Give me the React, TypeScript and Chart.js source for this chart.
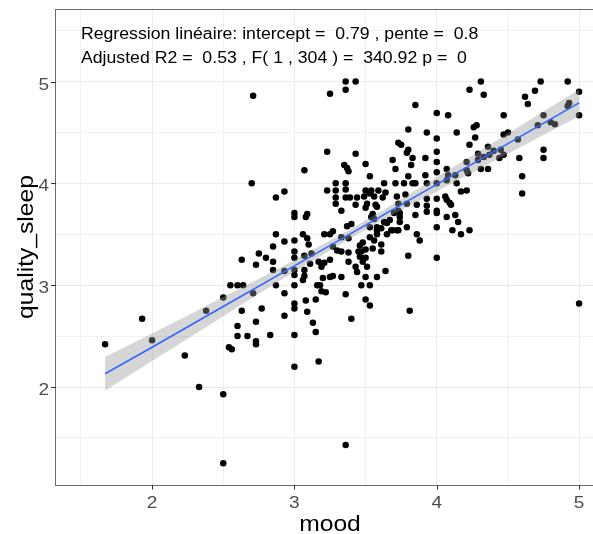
import React, { useEffect, useRef } from "react";
import { Chart, registerables } from "chart.js";

Chart.register(...registerables);

// ---- data ----
const MOOD = [
  1.67, 1.93, 2.0, 2.23, 2.33, 2.38, 2.5, 2.5, 2.5, 2.63, 2.55, 2.6, 2.64, 2.63, 2.6, 2.6, 2.67, 2.54, 2.56,
  2.7, 2.87, 2.93, 3.0, 3.0, 2.87, 2.93, 3.0, 2.85, 3.0, 2.75, 2.8, 3.0, 2.85, 2.73, 2.85, 2.93, 3.0, 3.0,
  2.87, 3.0, 2.71, 2.93, 2.77, 3.0, 3.0, 2.93, 2.73, 2.83, 3.0, 2.73, 2.73, 3.0, 3.17, 3.36, 4.0, 5.0, 4.17,
  4.23, 4.11, 3.09, 3.13, 3.15, 3.4, 3.08, 3.15, 3.36, 3.5, 3.53, 3.81, 3.8, 3.64, 3.58, 3.47, 3.53, 3.5,
  3.33, 3.25, 3.27, 3.2, 3.18, 3.19, 3.22, 3.06, 3.07, 3.06, 3.09, 3.1, 3.07, 3.11, 3.17, 3.21, 3.19, 3.25,
  3.21, 3.25, 3.27, 3.33, 3.33, 3.38, 3.38, 3.38, 3.44, 3.43, 3.46, 3.48, 3.5, 3.47, 3.5, 3.48, 3.46, 3.51,
  3.53, 3.56, 3.58, 3.61, 3.61, 3.55, 3.65, 3.69, 3.72, 3.86, 3.88, 2.71, 3.36, 3.36, 3.43, 3.25, 3.85, 3.8,
  3.93, 3.23, 3.43, 3.73, 3.75, 3.8, 3.79, 3.83, 3.69, 3.71, 3.82, 3.92, 3.07, 3.35, 3.37, 3.38, 3.5, 3.53,
  3.8, 3.92, 3.29, 3.36, 3.63, 3.71, 3.77, 3.83, 3.85, 3.23, 3.29, 3.36, 3.5, 3.54, 3.59, 3.64, 3.29, 3.36,
  3.39, 3.44, 3.49, 3.53, 3.56, 3.29, 3.43, 3.5, 3.57, 3.86, 3.93, 3.08, 3.09, 3.33, 3.67, 3.65, 3.74, 3.7,
  3.79, 3.73, 3.68, 3.61, 3.63, 3.56, 3.58, 3.53, 3.37, 3.4, 3.27, 4.31, 4.23, 4.33, 4.73, 4.92, 4.69, 5.0,
  4.62, 4.64, 4.93, 4.92, 5.0, 4.0, 4.08, 4.47, 4.75, 4.8, 4.83, 4.71, 4.14, 4.28, 4.26, 4.5, 4.47, 4.57,
  4.0, 4.27, 4.23, 4.75, 4.75, 4.58, 4.6, 4.6, 4.0, 4.0, 4.0, 4.45, 4.44, 4.47, 4.36, 4.4, 4.37, 4.33, 4.29,
  4.29, 4.31, 4.36, 4.21, 4.21, 4.22, 4.07, 4.08, 4.07, 4.0, 4.14, 4.17, 4.21, 4.06, 4.07, 4.09, 4.1, 4.0,
  4.0, 4.07, 4.13, 4.15, 4.0, 3.16, 3.62, 3.51, 3.55, 3.58, 3.54, 3.93, 4.13, 3.72, 3.73, 3.79, 3.93, 4.0,
  3.93, 3.85, 3.45, 3.58, 3.74, 3.74, 3.73, 3.12, 3.07, 3.3, 3.78,
];
const SLEEP = [
  2.42, 2.67, 2.46, 2.31, 2.0, 2.75, 2.88, 1.93, 1.25, 3.25, 3.0, 3.0, 3.0, 2.75, 2.6, 2.5, 2.5, 2.39, 2.37,
  4.0, 3.86, 3.92, 3.71, 3.67, 3.5, 3.43, 3.44, 3.38, 3.33, 3.31, 3.27, 3.27, 3.23, 3.2, 3.15, 3.14, 3.15, 3.1,
  3.0, 3.0, 2.92, 2.92, 2.77, 2.82, 2.77, 2.7, 2.64, 2.51, 2.51, 2.45, 2.42, 2.2, 2.25, 1.43, 3.27, 2.82, 3.5,
  3.54, 3.54, 2.74, 2.63, 2.54, 2.67, 2.85, 2.86, 2.91, 2.86, 2.8, 2.75, 3.29, 3.14, 3.08, 3.0, 3.0, 3.08,
  3.08, 3.08, 3.09, 3.07, 3.0, 2.94, 2.93, 3.05, 3.09, 3.5, 3.46, 3.4, 3.29, 3.21, 3.23, 3.22, 3.18, 3.25,
  3.5, 3.5, 3.38, 3.33, 3.47, 3.46, 3.32, 3.23, 3.13, 3.18, 3.28, 3.23, 3.27, 3.33, 3.35, 3.42, 3.39, 3.18,
  3.47, 3.44, 3.5, 3.4, 3.33, 3.36, 3.5, 3.54, 3.54, 3.5, 3.44, 4.86, 5.0, 4.92, 5.0, 4.88, 4.77, 4.53,
  4.5, 4.31, 4.29, 4.4, 4.38, 4.33, 4.3, 4.25, 4.23, 4.14, 4.18, 4.25, 4.13, 4.18, 4.15, 4.12, 4.19, 4.07,
  4.07, 4.08, 4.0, 4.0, 4.0, 4.0, 4.0, 4.0, 4.0, 3.93, 3.93, 3.94, 3.93, 3.93, 3.93, 3.91, 3.86, 3.86,
  3.86, 3.86, 3.87, 3.9, 3.87, 3.8, 3.79, 3.76, 3.79, 3.79, 3.72, 3.67, 3.7, 3.73, 3.64, 3.61, 3.62, 3.71,
  3.57, 3.54, 3.54, 3.56, 3.62, 3.65, 3.57, 3.57, 3.58, 3.6, 3.53, 5.0, 4.92, 4.87, 5.0, 5.0, 4.91, 4.9,
  4.85, 4.78, 4.79, 4.76, 4.67, 4.69, 4.67, 4.67, 4.67, 4.6, 4.58, 4.57, 4.5, 4.57, 4.55, 4.5, 4.48, 4.43,
  4.44, 4.45, 4.38, 4.33, 4.25, 4.25, 4.07, 3.9, 4.31, 4.21, 4.11, 4.33, 4.25, 4.28, 4.36, 4.32, 4.28, 4.26, 4.29,
  4.23, 4.14, 4.14, 4.21, 4.13, 4.1, 4.14, 4.08, 4.03, 4.0, 4.0, 3.92, 3.93, 3.87, 3.84, 3.81, 3.79, 3.73,
  3.71, 3.67, 3.69, 3.62, 3.57, 3.0, 3.86, 3.8, 3.7, 3.77, 3.67, 4.0, 4.08, 3.87, 3.8, 3.8, 3.85, 3.85,
  3.78, 3.69, 3.33, 3.54, 3.67, 3.71, 3.73, 3.31, 3.15, 3.34, 3.89,
];

// regression line and its confidence band
const FIT_X = [1.67, 2, 2.5, 3, 3.5, 4, 4.5, 5];
const FIT_Y = [2.13, 2.39, 2.79, 3.19, 3.59, 3.99, 4.39, 4.79];
const BAND_LOW = [1.965, 2.255, 2.695, 3.132, 3.545, 3.92, 4.29, 4.66];
const BAND_HIGH = [2.295, 2.525, 2.885, 3.248, 3.635, 4.06, 4.49, 4.92];

// axes
const X_RANGE = [1.325, 5.175];
const Y_RANGE = [1.0375, 5.7125];
const X_TICKS = [2, 3, 4, 5];
const Y_TICKS = [2, 3, 4, 5];
const X_GRID = [1.5, 2, 2.5, 3, 3.5, 4, 4.5, 5];
const Y_GRID = [1.5, 2, 2.5, 3, 3.5, 4, 4.5, 5, 5.5];
const X_TITLE = "mood";
const Y_TITLE = "quality_sleep";

// annotation
const ANNOT_LINES = [
  "Regression linéaire: intercept =  0.79 , pente =  0.8",
  "Adjusted R2 =  0.53 , F( 1 , 304 ) =  340.92 p =  0",
];
const ANNOT_X = 1.5;
const ANNOT_Y = [5.42, 5.18];

// ---- styling ----
const FONT = '"Liberation Sans", Arial, sans-serif';
const SX = 1.12;

function drawText(
  ctx: CanvasRenderingContext2D,
  text: string,
  x: number,
  y: number,
  size: number,
  align: "left" | "right" | "center",
  color: string,
  rotate = false
) {
  ctx.save();
  ctx.font = `${size}px ${FONT}`;
  ctx.fillStyle = color;
  ctx.textBaseline = "alphabetic";
  ctx.textAlign = "left";
  const w = ctx.measureText(text).width;
  ctx.translate(x, y);
  if (rotate) ctx.rotate(-Math.PI / 2);
  ctx.scale(SX, 1);
  let ox = 0;
  if (align === "right") ox = -w;
  else if (align === "center") ox = -w / 2;
  ctx.fillText(text, ox, 0);
  ctx.restore();
}

const decorPlugin = {
  id: "decor",
  afterDraw(chart: any) {
    const ctx: CanvasRenderingContext2D = chart.ctx;
    const { left, right, top, bottom } = chart.chartArea;
    const xs = chart.scales.x;
    const ys = chart.scales.y;

    // panel border
    ctx.save();
    ctx.strokeStyle = "#6b6b6b";
    ctx.lineWidth = 1;
    ctx.strokeRect(Math.round(left) - 0.5, Math.round(top) + 0.5, right - left + 1, bottom - top);
    // tick marks
    ctx.strokeStyle = "#333333";
    ctx.beginPath();
    Y_TICKS.forEach((v) => {
      const py = Math.round(ys.getPixelForValue(v)) + 0.5;
      ctx.moveTo(left - 5, py);
      ctx.lineTo(left, py);
    });
    X_TICKS.forEach((v) => {
      const px = Math.round(xs.getPixelForValue(v)) + 0.5;
      ctx.moveTo(px, bottom);
      ctx.lineTo(px, bottom + 4.5);
    });
    ctx.stroke();
    ctx.restore();

    // tick labels
    Y_TICKS.forEach((v) => {
      drawText(ctx, String(v), left - 7, ys.getPixelForValue(v) + 8, 17, "right", "#4d4d4d");
    });
    X_TICKS.forEach((v) => {
      drawText(ctx, String(v), xs.getPixelForValue(v), bottom + 23, 17, "center", "#4d4d4d");
    });

    // axis titles
    drawText(ctx, X_TITLE, (left + right) / 2, bottom + 46, 22, "center", "#000");
    drawText(ctx, Y_TITLE, 33, (top + bottom) / 2, 22, "center", "#000", true);

    // annotation
    ANNOT_LINES.forEach((t, i) => {
      drawText(ctx, t, xs.getPixelForValue(ANNOT_X), ys.getPixelForValue(ANNOT_Y[i]), 15.8, "left", "#000");
    });
  },
};

export default function App() {
  const ref = useRef<HTMLCanvasElement | null>(null);

  useEffect(() => {
    if (!ref.current) return;
    const pts = MOOD.map((m, i) => ({ x: m, y: SLEEP[i] }));
    const fit = FIT_X.map((x, i) => ({ x, y: FIT_Y[i] }));
    const hi = FIT_X.map((x, i) => ({ x, y: BAND_HIGH[i] }));
    const lo = FIT_X.map((x, i) => ({ x, y: BAND_LOW[i] }));

    const chart = new Chart(ref.current, {
      type: "line",
      data: {
        datasets: [
          {
            label: "fit",
            data: fit,
            borderColor: "#3366FF",
            borderWidth: 1.6,
            pointRadius: 0,
            fill: false,
          },
          {
            label: "upper",
            data: hi,
            borderWidth: 0,
            borderColor: "rgba(0,0,0,0)",
            pointRadius: 0,
            backgroundColor: "rgba(153,153,153,0.4)",
            fill: "+1",
            cubicInterpolationMode: "monotone",
          },
          {
            label: "lower",
            data: lo,
            borderWidth: 0,
            borderColor: "rgba(0,0,0,0)",
            pointRadius: 0,
            fill: false,
            cubicInterpolationMode: "monotone",
          },
          {
            label: "points",
            data: pts,
            showLine: false,
            pointRadius: 3.25,
            pointBackgroundColor: "#000",
            pointBorderWidth: 0,
            pointBorderColor: "#000",
          },
        ],
      } as any,
      options: {
        responsive: false,
        animation: false,
        devicePixelRatio: 1,
        layout: { padding: { left: 56, top: 9, right: 8, bottom: 49 } },
        plugins: {
          legend: { display: false },
          tooltip: { enabled: false },
          title: { display: false },
        },
        events: [],
        scales: {
          x: {
            type: "linear",
            min: X_RANGE[0],
            max: X_RANGE[1],
            afterBuildTicks: (s: any) => {
              s.ticks = X_GRID.map((v) => ({ value: v }));
            },
            ticks: { display: false },
            grid: {
              color: (c: any) => (X_TICKS.includes(c.tick?.value) ? "#ebebeb" : "#f1f1f1"),
              lineWidth: 1,
              drawTicks: false,
            },
            border: { display: false },
            title: { display: false },
          },
          y: {
            type: "linear",
            min: Y_RANGE[0],
            max: Y_RANGE[1],
            afterBuildTicks: (s: any) => {
              s.ticks = Y_GRID.map((v) => ({ value: v }));
            },
            ticks: { display: false },
            grid: {
              color: (c: any) => (Y_TICKS.includes(c.tick?.value) ? "#ebebeb" : "#f1f1f1"),
              lineWidth: 1,
              drawTicks: false,
            },
            border: { display: false },
            title: { display: false },
          },
        },
      } as any,
      plugins: [decorPlugin],
    });
    return () => chart.destroy();
  }, []);

  return (
    <div
      style={{
        position: "fixed",
        left: 0,
        top: 0,
        width: 593,
        height: 534,
        overflow: "hidden",
        background: "#fff",
      }}
    >
      <canvas ref={ref} width={612} height={534} style={{ display: "block", width: 612, height: 534 }} />
    </div>
  );
}
